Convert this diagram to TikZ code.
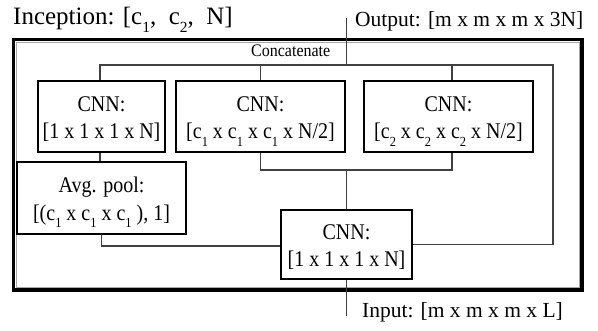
\documentclass[tikz,border=0pt]{standalone}
\usepackage{fontspec}
\setmainfont{Liberation Serif}
% lowered, reduced subscript as set in the layer labels
\newcommand{\sbs}[1]{\raisebox{-0.32em}{\scalebox{0.62}{#1}}}
% two-line label, slightly stretched vertically
\newcommand{\twol}[2]{\scalebox{1}[1.12]{\begin{tabular}{@{}c@{}}#1\\[1.5pt]#2\end{tabular}}}
\begin{document}
\begin{tikzpicture}[x=1pt,y=-1pt,
  layer/.style={draw=black,line width=2.6pt,fill=white,inner sep=0pt},
  txt/.style={inner sep=0pt,align=center,font=\fontsize{20}{23}\selectfont},
  wire/.style={draw=black!75,line width=1.1pt},
  lbl/.style={inner sep=0pt,anchor=base west}]
\useasboundingbox (0,0) rectangle (598,331);
% frame of the module
\draw[black,line width=3.6pt] (13.5,39.5) rectangle (582,290);
\draw[black!35,line width=0.8pt] (16.2,42.2) rectangle (579.3,287.3);
% title and i/o labels
\node[lbl,font=\fontsize{25}{28}\selectfont] (title) at (13,25) {Inception: [c\sbs{1},\ \ c\sbs{2},\ \ N]};
\node[lbl,font=\fontsize{21.5}{26}\selectfont] (outl) at (355,27) {Output: [m x m x m x 3N]};
\node[lbl,font=\fontsize{21.5}{26}\selectfont] (inl) at (362,318) {Input: [m x m x m x L]};
\node[lbl,font=\fontsize{16}{19}\selectfont] (cat) at (251,57) {\scalebox{1}[1.1]{Concatenate}};
% layers
\node[layer,minimum width=127,minimum height=71] (b1) at (101.5,116.5) {};
\node[layer,minimum width=169,minimum height=71] (b2) at (260.5,116.5) {};
\node[layer,minimum width=169,minimum height=71] (b3) at (448.5,116.5) {};
\node[layer,minimum width=169,minimum height=72] (pool) at (101.5,198) {};
\node[layer,minimum width=131,minimum height=69] (cnn) at (346.5,244.5) {};
% layer captions
\node[txt] (b1t) at ([yshift=-3.5pt]b1.center) {\twol{CNN:}{[1 x 1 x 1 x N]}};
\node[txt] (b2t) at ([yshift=-3.5pt]b2.center) {\twol{CNN:}{[c\sbs{1} x c\sbs{1} x c\sbs{1} x N/2]}};
\node[txt] (b3t) at ([yshift=-3.5pt]b3.center) {\twol{CNN:}{[c\sbs{2} x c\sbs{2} x c\sbs{2} x N/2]}};
\node[txt] (poolt) at ([yshift=-3.5pt]pool.center) {\twol{Avg. pool:}{[(c\sbs{1} x c\sbs{1} x c\sbs{1} ), 1]}};
\node[txt] (cnnt) at ([yshift=-3.5pt]cnn.center) {\twol{CNN:}{[1 x 1 x 1 x N]}};
% junction points
\coordinate (outtop) at (346.5,18);
\coordinate (cc) at (346.5,65);
\coordinate (ccl) at (100,65);
\coordinate (ccr) at (553,65);
\coordinate (mg) at (346.5,170);
\coordinate (inbot) at (346.5,316);
% connectors
\draw[wire] (outtop) -- (cc);
\draw[wire] (b1.north -| ccl) -- (ccl) -- (ccr) |- (cnn.east);
\draw[wire] (b2.north) -- (b2.north |- cc);
\draw[wire] (b3.north -| 452,0) -- (452,65);
\draw[wire] (b1.south -| ccl) -- (pool.north -| ccl);
\draw[wire] (pool.south) |- (cnn.west |- 0,246);
\draw[wire] (b2.south) |- (mg) -| (b3.south -| 452,0);
\draw[wire] (mg) -- (cnn.north);
\draw[wire] (cnn.south) -- (inbot);
\end{tikzpicture}
\end{document}
